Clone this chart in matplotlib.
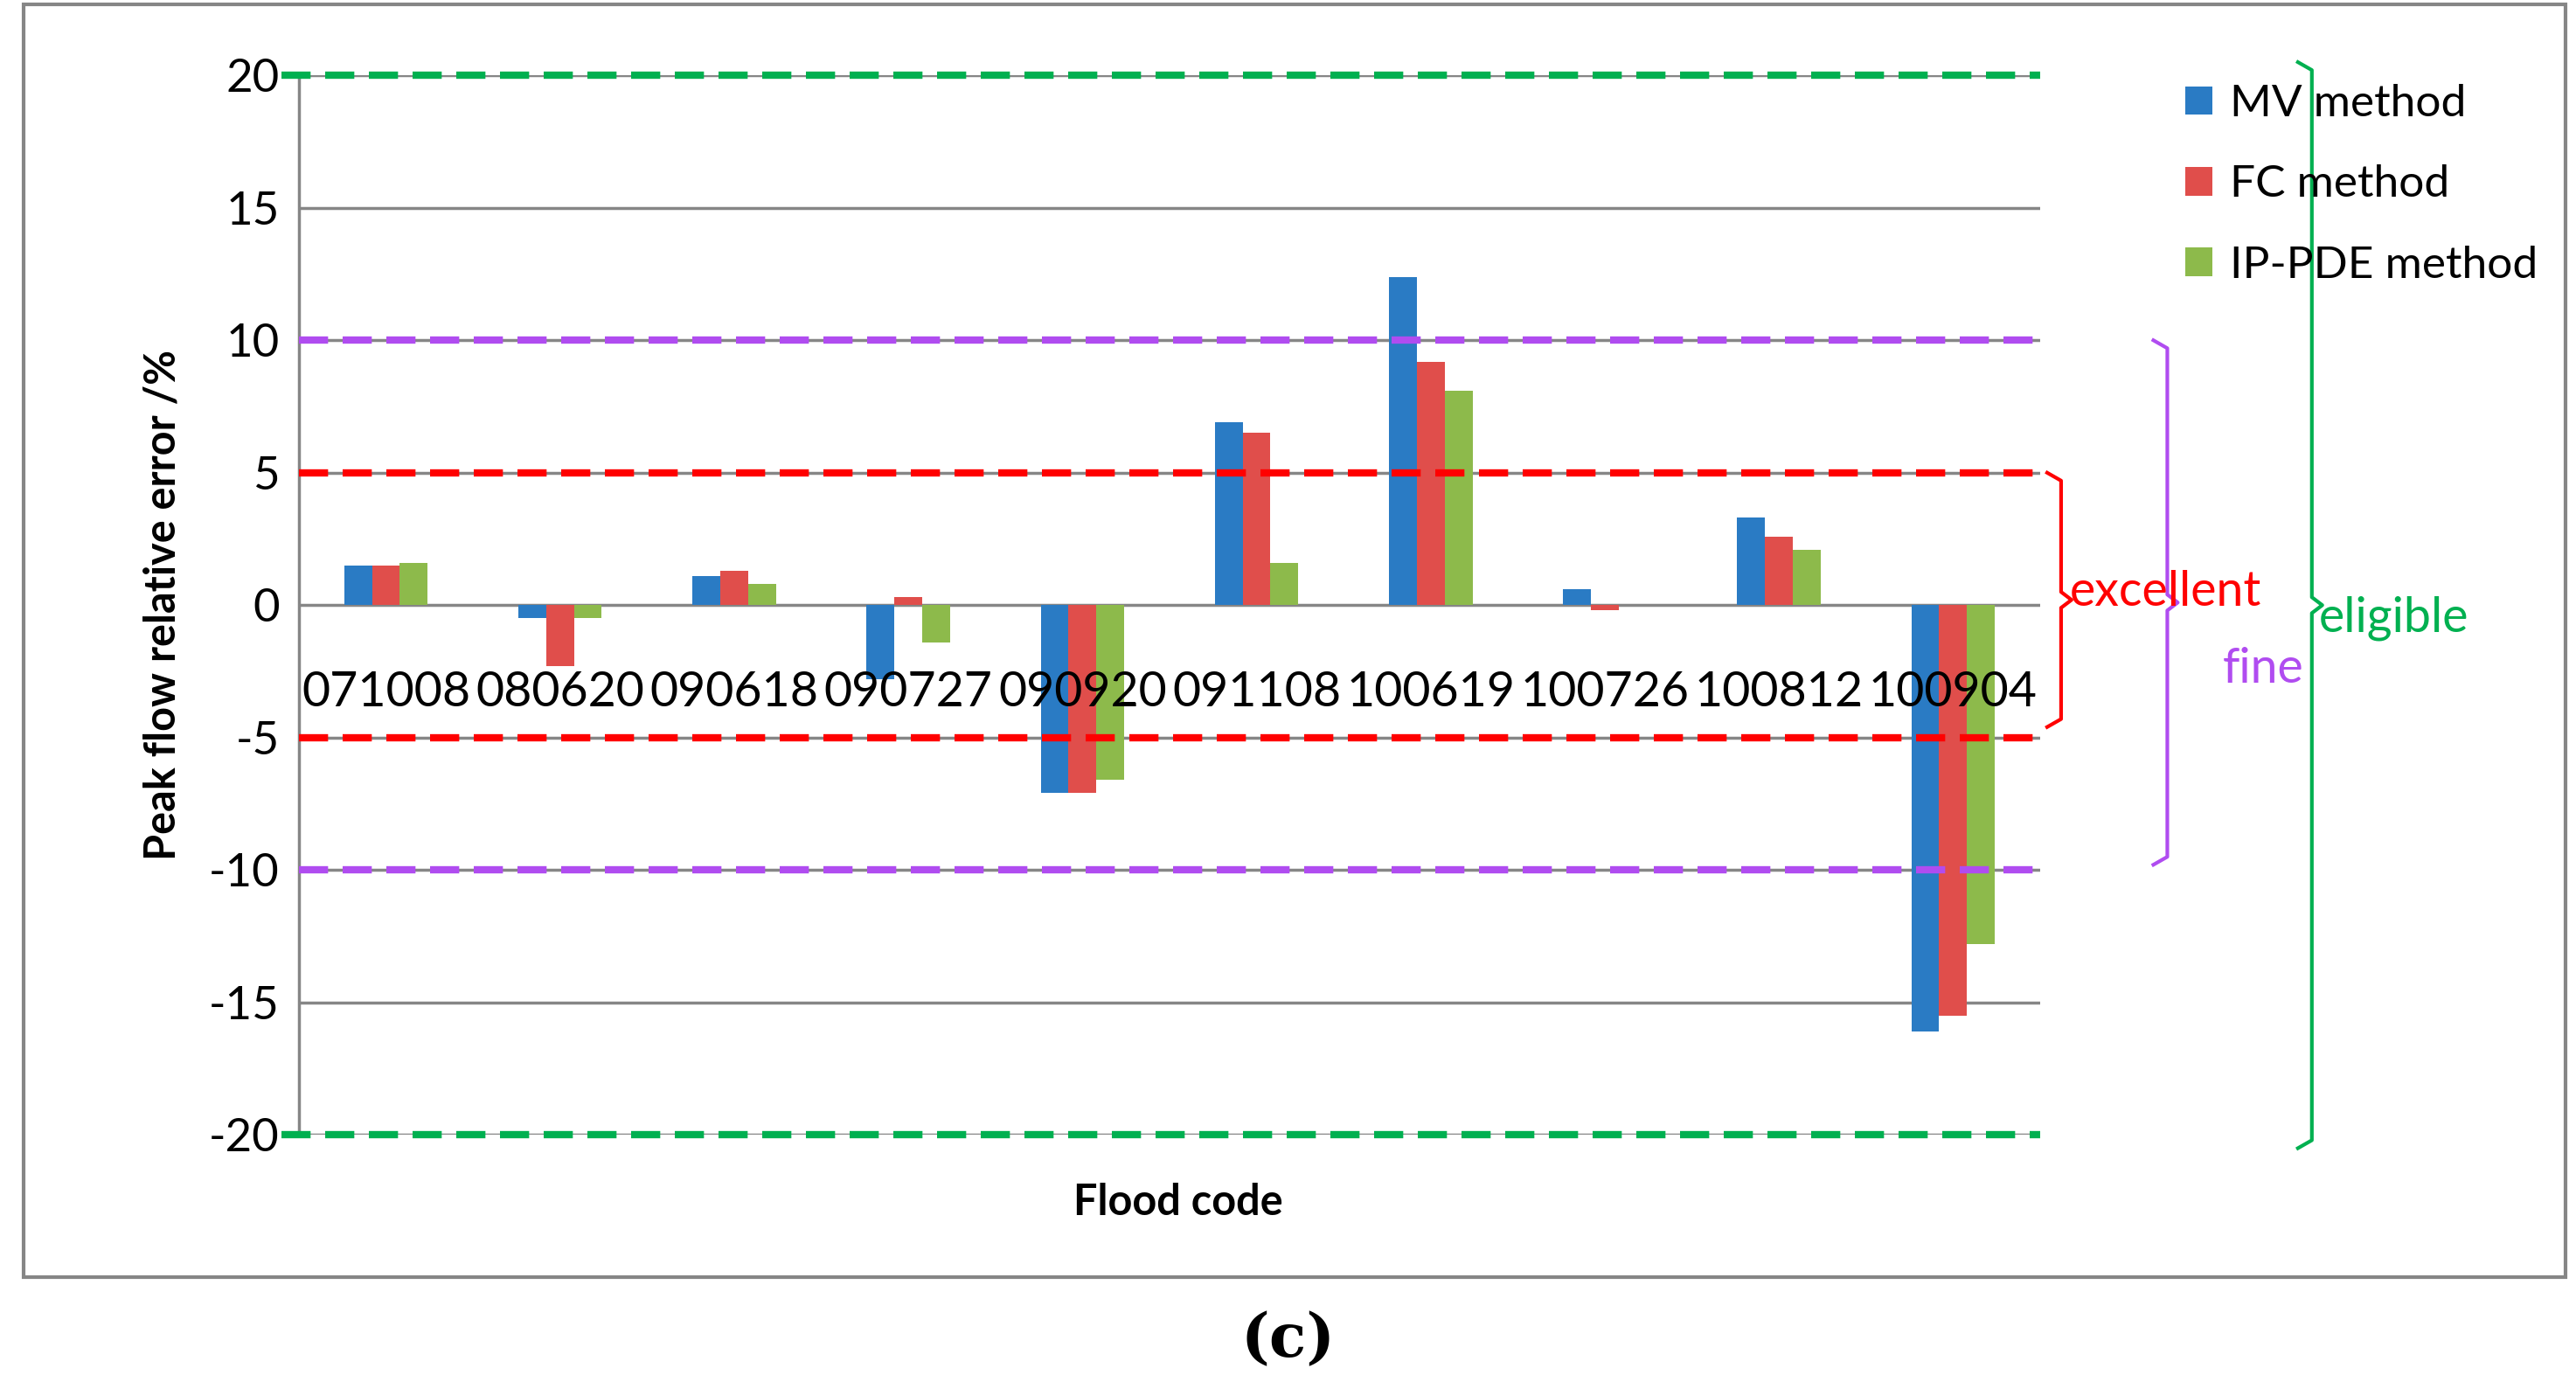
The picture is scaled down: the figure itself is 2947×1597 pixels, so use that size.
import matplotlib
matplotlib.use("Agg")
import matplotlib.pyplot as plt
import matplotlib.transforms as mtrans
import numpy as np

plt.rcParams['font.family'] = ['Lato', 'DejaVu Sans']
plt.rcParams['axes.unicode_minus'] = False

codes = ["071008", "080620", "090618", "090727", "090920", "091108", "100619", "100726", "100812", "100904"]
mv = [1.5, -0.5, 1.1, -2.8, -7.1, 6.9, 12.4, 0.6, 3.3, -16.1]
fc = [1.5, -2.3, 1.3, 0.3, -7.1, 6.5, 9.2, -0.2, 2.6, -15.5]
ip = [1.6, -0.5, 0.8, -1.4, -6.6, 1.6, 8.1, 0.0, 2.1, -12.8]
series = [("MV method", mv, "#2A7BC4"), ("FC method", fc, "#E04E4B"), ("IP-PDE method", ip, "#8DBA4B")]

fig = plt.figure(figsize=(29.47, 15.97), dpi=100)
ax = fig.add_axes([0.116, 0.187, 0.676, 0.759])
x = np.arange(len(codes))
w = 0.16
for i, (name, vals, col) in enumerate(series):
    ax.bar(x + (i - 1) * w, vals, w, color=col, label=name, zorder=3)

ax.set_xlim(-0.5, len(codes) - 0.5)
ax.set_ylim(-20, 20)
ax.set_yticks(range(-20, 21, 5))
ax.tick_params(axis='y', labelsize=38, length=0, pad=16)
ax.set_xticks([])
ax.grid(axis='y', color='#868686', lw=2.5, zorder=0)
for s in ['top', 'right', 'bottom']:
    ax.spines[s].set_visible(False)
ax.spines['left'].set_color('#868686')
ax.spines['left'].set_linewidth(2.5)
for i, c in enumerate(codes):
    ax.text(x[i], -3.3, c, ha='center', va='center', fontsize=40, zorder=4)

for yv, col in [(20, '#00B050'), (-20, '#00B050'), (10, '#B04CF0'), (-10, '#B04CF0'), (5, '#FF0000'), (-5, '#FF0000')]:
    ax.axhline(yv, color=col, ls=(0, (4, 2)), lw=6, zorder=5, xmin=-0.01 if abs(yv) == 20 else 0, clip_on=False)

ax.set_ylabel("Peak flow relative error /%", fontsize=35, fontweight='bold', labelpad=22)
ax.set_xlabel("Flood code", fontsize=35, fontweight='bold')
ax.xaxis.set_label_coords(0.505, -0.045)

tr = mtrans.blended_transform_factory(ax.transAxes, ax.transData)
def bracket(xa, y0, y1, col):
    ym = (y0 + y1) / 2
    ax.plot([xa - 0.008, xa, xa, xa + 0.006, xa, xa, xa - 0.008],
            [y0, y0 - 0.3, ym + 0.3, ym, ym - 0.3, y1 + 0.3, y1],
            color=col, lw=3, transform=tr, clip_on=False)
bracket(1.012, 5, -4.6, '#FF0000')
bracket(1.073, 10, -9.8, '#B04CF0')
bracket(1.156, 20.5, -20.5, '#00B050')
ax.text(1.017, 0.5, "excellent", color='#FF0000', fontsize=40, transform=tr, va='center')
ax.text(1.105, -2.4, "fine", color='#B04CF0', fontsize=40, transform=tr, va='center')
ax.text(1.16, -0.5, "eligible", color='#00B050', fontsize=40, transform=tr, va='center')

ax.legend(loc='upper left', bbox_to_anchor=(1.06, 1.03), frameon=False, fontsize=37,
          handlelength=0.6, handleheight=0.6, labelspacing=0.9, handletextpad=0.4)

fig.add_artist(plt.Rectangle((0.009, 0.085), 0.987, 0.912, transform=fig.transFigure,
                             fill=False, ec='#868686', lw=3))
fig.text(0.5, 0.04, "(c)", fontsize=50, fontweight='bold', family='DejaVu Serif', ha='center', va='center')
fig.savefig("out.png", dpi=100)
